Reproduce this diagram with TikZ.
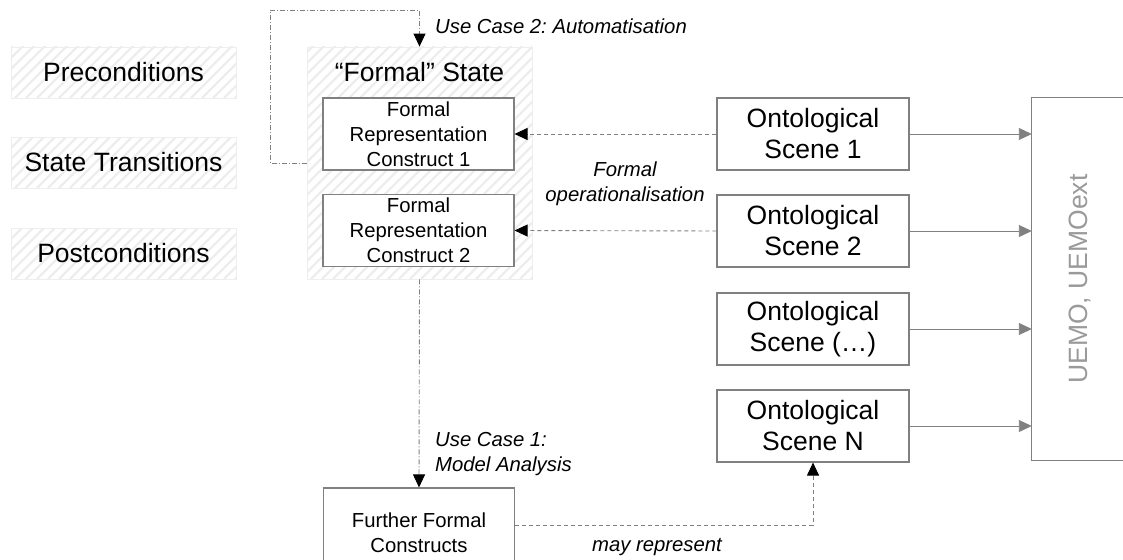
\documentclass[tikz,border=0pt]{standalone}
\usepackage{fontspec}
\setmainfont{Liberation Sans}
\usetikzlibrary{arrows.meta,calc}
\frenchspacing

\definecolor{edgegray}{HTML}{808080}
\definecolor{hatchgray}{HTML}{EDEDED}
\definecolor{hatchedge}{HTML}{EEEEEE}
\definecolor{labelgray}{HTML}{9A9A9A}

\tikzset{
  hatched/.style={
    draw=hatchedge, line width=0.8pt,
    path picture={
      \foreach \k in {-260,-249,...,260}
        \draw[hatchgray, line width=2.4pt]
          ([xshift=\k pt]path picture bounding box.south west) -- ++(320pt,320pt);
    }},
  sidebox/.style={hatched, minimum width=225pt, minimum height=51pt,
    inner sep=0pt, font=\fontsize{26.5}{31}\selectfont},
  formalbox/.style={draw=edgegray, fill=white, line width=1.1pt,
    minimum width=191pt, minimum height=72pt, inner sep=0pt, align=center,
    font=\fontsize{20.3}{25}\selectfont},
  scenebox/.style={draw=edgegray, fill=white, line width=1.1pt,
    minimum width=192pt, minimum height=72pt, inner sep=0pt, align=center,
    font=\fontsize{26.5}{31}\selectfont},
  note/.style={font=\fontsize{20.3}{25}\selectfont\itshape, inner sep=0pt},
  tip/.style={-{Triangle[length=13pt,width=12pt,color=black]}},
  dashlink/.style={tip, draw=edgegray, line width=0.9pt,
    dash pattern=on 4pt off 3pt},
  dashdotlink/.style={tip, draw=edgegray, line width=0.9pt,
    dash pattern=on 5pt off 2pt on 1pt off 2pt},
  feedlink/.style={-{Triangle[length=13pt,width=12pt,color=edgegray]},
    draw=edgegray, line width=0.9pt},
}

\begin{document}
\begin{tikzpicture}[x=1pt, y=-1pt]
\useasboundingbox (0,0) rectangle (1123,559);

% state description categories
\node[sidebox] (pre)  at (123.5,72.5)  {Preconditions};
\node[sidebox] (tra)  at (123.5,162.5) {State Transitions};
\node[sidebox] (post) at (123.5,253.5) {Postconditions};

% formal state container with its constructs
\node[hatched, minimum width=225pt, minimum height=232pt, inner sep=0pt]
  (formal) at (419.5,163) {};
\node[font=\fontsize{26.5}{31}\selectfont, inner sep=0pt] (ftitle) at (419.5,72) {“Formal” State};
\node[formalbox] (frc1) at (418.5,134) {Formal\\Representation\\Construct 1};
\node[formalbox] (frc2) at (418.5,230.5) {Formal\\Representation\\Construct 2};

% ontological scenes
\node[scenebox] (os1) at (813,134) {Ontological\\Scene 1};
\node[scenebox] (os2) at (813,231) {Ontological\\Scene 2};
\node[scenebox] (os3) at (813,329) {Ontological\\Scene (…)};
\node[scenebox] (osn) at (813,426) {Ontological\\Scene N};

% UEMO block (open to the right)
\node[minimum width=96pt, minimum height=362pt, inner sep=0pt] (uemo) at (1080,279) {};
\draw[edgegray, line width=1.1pt] ([xshift=10pt]uemo.north east) -- (uemo.north west)
  -- (uemo.south west) -- ([xshift=10pt]uemo.south east);
\node[rotate=90, text=labelgray, font=\fontsize{26.5}{31}\selectfont, inner sep=0pt]
  (uemotext) at (uemo.center) {UEMO, UEMOext};

% further constructs
\node[formalbox, minimum height=90pt, text depth=0pt] (ffc) at (419,533)
  {Further Formal\\Constructs};

% scenes feed the ontology
\draw[feedlink] (os1.east) -- (os1.east -| uemo.west);
\draw[feedlink] (os2.east) -- (os2.east -| uemo.west);
\draw[feedlink] (os3.east) -- (os3.east -| uemo.west);
\draw[feedlink] (osn.east) -- (osn.east -| uemo.west);

% formal operationalisation
\draw[dashlink] (os1.west) -- (frc1.east);
\draw[dashlink] (os2.west) -- (frc2.east);
\node[note, align=center] (oplabel) at (625,184) {Formal\\operationalisation};

% use case 2: automatisation loop
\coordinate (loopa) at (270,163);
\coordinate (loopb) at (270,10);
\draw[dashdotlink] (formal.west) -- (loopa) -- (loopb) -| (formal.north);
\node[note, anchor=west] (uc2) at (435,26) {Use Case 2: Automatisation};

% use case 1: model analysis
\draw[dashdotlink] (formal.south) -- (ffc.north);
\node[note, align=left, anchor=west] (uc1) at (435,454) {Use Case 1:\\Model Analysis};

% may represent
\draw[dashlink] ([yshift=8pt]ffc.east) -| (osn.south);
\node[note] (mayrep) at (657,547) {may represent};
\end{tikzpicture}
\end{document}
